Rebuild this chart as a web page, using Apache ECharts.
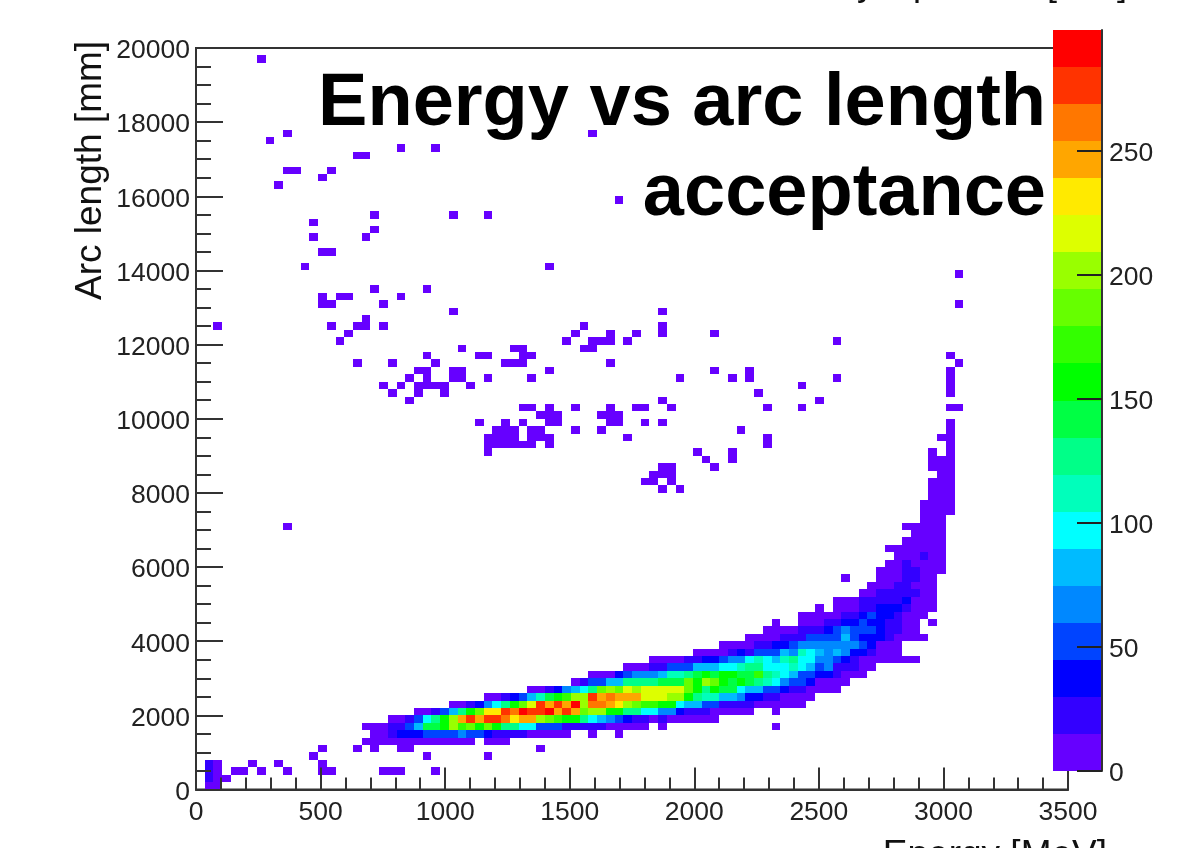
<!DOCTYPE html>
<html><head><meta charset="utf-8">
<style>html,body{margin:0;padding:0;background:#fff;overflow:hidden}#c{width:1194px;height:848px;filter:blur(0.4px)}</style>
<script src="https://cdn.jsdelivr.net/npm/echarts@6/dist/echarts.min.js"></script>
</head><body><div id="c"></div>
<script>
const binEnergy = 35, binArc = 200;
const xTicks = [0, 3500], yTicks = [0, 20000];
const scaleMax = 298.8;
const palette = ['#6600ff','#3300ff','#0000ff','#0044ff','#0088ff','#00bbff','#00ffff','#00ffbb','#00ff88','#00ff44','#00ff00','#33ff00','#66ff00','#99ff00','#ddff00','#ffea00','#ffa600','#ff7700','#ff3300','#ff0000'];

// [arc-length bin, first energy bin, counts...]
const denseRows = [
[7,20,[7,7,22,37,37,37,52,52,52,52,67,52,52,37,22,22,22,22,7,7,7,7,7]],
[8,19,[7,7,7,22,22,52,82,142,142,157,202,172,187,157,187,157,127,127,97,97,52,52,52,22,22,22,22,22,7,7,7,7,7]],
[9,22,[7,7,22,52,97,127,157,202,247,277,247,277,277,262,232,247,247,202,187,172,157,157,127,97,82,67,52,37,22,22,7,22,7,7,7,7,7,7]],
[10,25,[7,7,22,52,82,127,157,187,232,232,277,262,292,277,277,292,247,277,247,187,202,202,157,157,127,127,97,97,67,67,37,22,22,22,7,7,7,7,7]],
[11,29,[7,7,22,37,67,97,127,157,187,217,277,247,277,247,292,202,262,262,247,232,202,187,172,172,157,157,97,82,82,52,52,22,22,22,22,7,7,7,7,7,7]],
[12,33,[7,7,22,37,52,82,112,142,157,172,202,202,277,247,262,247,247,247,217,217,217,202,202,157,127,112,112,82,82,67,37,37,22,22,7,7,7,7]],
[13,38,[7,7,22,37,67,82,97,127,187,202,187,217,202,217,217,217,217,217,187,157,127,157,142,142,97,82,82,52,52,37,22,22,7,7,7,7]],
[14,43,[7,22,52,52,82,82,127,127,127,127,142,142,142,187,157,202,187,157,142,157,142,127,112,97,67,52,52,37,7,7,7,7]],
[15,45,[7,7,7,37,52,67,67,67,82,112,112,127,142,157,142,157,157,142,142,172,127,112,97,82,52,52,37,37,22,7,7,7]],
[16,49,[7,7,7,22,22,52,52,52,82,82,82,97,97,112,127,127,97,97,97,112,97,82,52,67,22,22,22,7,7]],
[17,52,[7,7,7,7,22,22,37,37,52,67,67,97,112,97,82,112,127,97,97,67,67,52,37,22,7,7,7,7,7,7,7]],
[18,57,[7,7,7,7,22,37,22,52,52,52,82,67,112,97,82,67,82,67,37,37,22,7,7,7]],
[19,60,[7,7,7,7,22,22,37,37,52,67,67,67,67,67,67,67,52,37,7,7,7]],
[20,63,[7,7,7,7,22,22,22,52,52,52,52,82,52,37,37,37,22,7,7,7,7]],
[21,65,[7,7,7,7,22,22,22,37,52,67,52,52,52,37,22,22,7,7]],
[22,69,[7,7,7,22,22,37,37,52,37,37,22,22,7,7]],
[23,69,[7,7,7,7,7,22,22,37,52,37,37,22,7,7,7]],
[24,73,[7,7,7,22,22,37,37,37,22,7,7,7]],
[25,73,[7,7,7,22,22,22,22,22,37,7,7,7]],
[26,76,[7,7,22,22,22,22,22,7,7]],
[27,77,[7,7,7,22,22,7,7,7]],
[28,78,[7,7,7,22,22,7,7]],
[29,78,[7,7,7,22,22,7,7,7]],
[30,79,[7,7,22,7,7,7,7]],
[31,80,[7,7,7,22,7,7]]
];

// [arc-length bin, energy bins with a few counts...]
const sparseRows = [
[98,7],[88,10,45],[87,8],[86,23,27],[85,18,19],[83,10,11,15],[82,14],[81,9],[79,48],
[77,20,29,33],[76,13],[75,20],[74,13,19],[72,14,15],[70,12,40],[69,87],[67,20,26],
[66,14,16,17,23],[65,14,15,21,87],[64,29,53],[63,19],[62,2,15,18,19,21,44,53],
[61,17,43,47,50,53,59],[60,16,42,45,46,47,49,73],[59,30,36,37,44,45],[58,26,32,33,37,38,86],
[57,18,22,27,35,36,37,47,87],[56,25,26,29,30,40,59,63,86],[55,24,26,29,30,33,38,55,61,63,73,86],
[54,21,23,25,26,27,28,31,69,86],[53,22,25,28,64,86],[52,24,53,71],
[51,37,38,40,43,47,50,51,54,65,69,86,87],[50,39,40,41,46,47,48],[49,32,35,37,40,41,47,48,51,53,86],
[48,34,35,36,38,39,43,46,62,86],[47,33,34,35,36,38,39,40,49,65,85,86],[46,33,34,35,36,37,38,40,65,86],
[45,33,57,61,84,86],[44,58,61,84,85,86],[43,53,54,59,84,85,86],[42,52,53,54,85,86],
[41,51,52,54,84,85,86],[40,53,55,84,85,86],[39,84,85,86],[38,83,84,85,86],[37,83,84,85,86],
[36,83,84,85],[35,10,81,82,83,84,85],[34,82,83,84,85],[33,81,82,83,84,85],[32,79,80,81,82,83,84,85],
[28,74],[24,71],[22,66,84],[10,66],[8,53,66],[7,45,48],
[6,19,20,21,22,23,24,25,26,27,28,29,30,31,33,34,35],[5,14,18,20,23,24,39],[4,13,26,33],
[3,2,6,9,14],[2,2,4,5,7,10,14,15,21,22,23,27],[1,2,3],[0,1,2]
];
// the denser column of the spike next to the origin
const originRows = [[3,1,[22]],[2,1,[22]],[1,1,[22]]];
const colourbarTicks = [0,50,100,150,200,250];

const cells = [];
denseRows.concat(originRows).forEach(([r, s, counts]) => counts.forEach((c, k) => cells.push([(s + k) * binEnergy, r * binArc, c])));
sparseRows.forEach(r => r.slice(1).forEach(i => cells.push([i * binEnergy, r[0] * binArc, 5])));

const bandWidth = scaleMax / palette.length;
const bands = palette.map((c, i) => [i * bandWidth, (i + 1) * bandWidth, (i + 0.5) * bandWidth]);

const font = '"Liberation Sans", Arial, sans-serif';
const ink = '#333';

function snapRect(a, b, col) {
  const x0 = Math.round(a[0]), x1 = Math.round(b[0]), y0 = Math.round(b[1]), y1 = Math.round(a[1]);
  return {type:'rect', shape:{x:x0, y:y0, width:x1-x0, height:y1-y0}, style:{fill:col}};
}
function cellItem(params, api) {
  const a = api.coord([api.value(0), api.value(1)]);
  const b = api.coord([api.value(0) + binEnergy, api.value(1) + binArc]);
  return snapRect(a, b, api.visual('color'));
}
function bandItem(params, api) {
  const a = api.coord([0, api.value(0)]);
  const b = api.coord([1, api.value(1)]);
  return snapRect(a, b, api.visual('color'));
}
const plain = v => String(v);

const chart = echarts.init(document.getElementById('c'), null, {renderer:'canvas'});
chart.setOption({
  animation:false,
  backgroundColor:'#fff',
  title:{text:'Energy vs arc length\nacceptance', left:1041, top:55, textAlign:'right', z:20,
    textStyle:{fontFamily:font, fontSize:74, fontWeight:'bold', color:'#000', lineHeight:90}},
  graphic:[{type:'text', right:67, top:-33, z:20,
    style:{text:'Decay z position [mm]', font:'36px '+font, fill:'#111'}}],
  visualMap:{type:'piecewise', show:false, seriesIndex:[0,1], dimension:2,
    pieces:palette.map((c,i)=>({min:i*bandWidth, max:(i+1)*bandWidth, color:c}))},
  grid:[
    {left:196, top:48, width:872, height:741.5, show:true, borderColor:ink, borderWidth:2, backgroundColor:'transparent', outerBoundsMode:'none'},
    {left:1053, top:30, width:49, height:741, outerBoundsMode:'none'}
  ],
  xAxis:[
    {type:'value', gridIndex:0, z:4, min:xTicks[0], max:xTicks[1], interval:500, splitLine:{show:false},
     axisLine:{onZero:false, lineStyle:{color:ink, width:2}},
     axisTick:{inside:true, length:22, lineStyle:{color:ink, width:2}},
     minorTick:{show:true, splitNumber:5, length:12, lineStyle:{color:ink, width:2}},
     axisLabel:{fontFamily:font, fontSize:26.5, color:'#222', margin:10, formatter:plain},
     name:'Energy [MeV]', nameLocation:'end', nameGap:39,
     nameTextStyle:{fontFamily:font, fontSize:37, color:'#111', align:'right', verticalAlign:'top', padding:[48,0,0,0]}},
    {type:'value', gridIndex:1, min:0, max:1, show:false}
  ],
  yAxis:[
    {type:'value', gridIndex:0, z:4, min:yTicks[0], max:yTicks[1], interval:2000, splitLine:{show:false},
     axisLine:{onZero:false, lineStyle:{color:ink, width:2}},
     axisTick:{inside:true, length:27, lineStyle:{color:ink, width:2}},
     minorTick:{show:true, splitNumber:4, length:15, lineStyle:{color:ink, width:2}},
     axisLabel:{fontFamily:font, fontSize:26.5, color:'#222', margin:6, formatter:plain, verticalAlign:'top', lineHeight:6},
     name:'Arc length [mm]', nameLocation:'end', nameGap:-252, nameRotate:90,
     nameTextStyle:{fontFamily:font, fontSize:37, color:'#111', align:'left', verticalAlign:'bottom', padding:[0,0,87,0]}},
    {type:'value', gridIndex:1, z:12, min:0, max:scaleMax, position:'right', splitLine:{show:false},
     axisLine:{show:true, onZero:false, lineStyle:{color:ink, width:2}},
     axisTick:{show:true, inside:true, length:25, customValues:colourbarTicks, lineStyle:{color:'#222', width:2}},
     axisLabel:{fontFamily:font, fontSize:26.5, color:'#222', margin:7, verticalAlign:'top', lineHeight:6, customValues:colourbarTicks}}
  ],
  series:[
    {type:'custom', xAxisIndex:0, yAxisIndex:0, z:2, renderItem:cellItem, data:cells, encode:{x:0,y:1}, clip:true, silent:true},
    {type:'custom', xAxisIndex:1, yAxisIndex:1, z:8, renderItem:bandItem, data:bands, encode:{y:[0,1]}, silent:true}
  ]
});
</script></body></html>
